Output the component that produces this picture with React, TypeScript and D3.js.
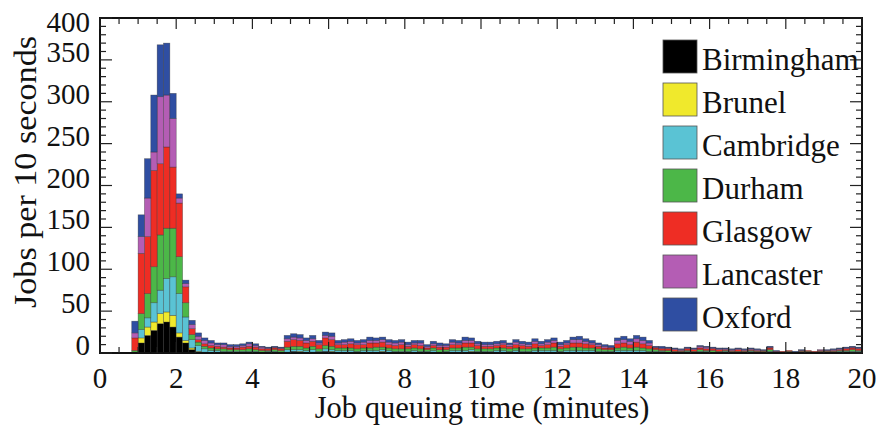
import React from "react";
import * as d3 from "d3";

// Bin width: 10 seconds = 1/6 minute, 120 bins from 0 to 20 minutes
const binMinutes = 1 / 6;
const sites = ["Birmingham", "Brunel", "Cambridge", "Durham", "Glasgow", "Lancaster", "Oxford"];
const colors = ["#000000", "#f0e92c", "#5ac3d4", "#4cb748", "#ee2d24", "#b45db4", "#2f4ea2"];

const birmingham = [
  0, 0, 0, 0, 0, 0, 12, 21, 27, 35,
  37, 31, 19, 12, 4, 1, 0, 0, 1, 1,
  1, 0, 1, 1, 1, 0, 1, 1, 0, 1,
  2, 1, 1, 1, 1, 2, 1, 1, 1, 1,
  1, 1, 1, 1, 1, 1, 1, 0, 1, 1,
  1, 1, 1, 0, 1, 1, 1, 1, 1, 1,
  1, 0, 1, 1, 1, 1, 1, 1, 1, 1,
  1, 1, 1, 1, 1, 1, 1, 1, 1, 1,
  1, 1, 1, 1, 1, 1, 1, 1, 1, 1,
  1, 1, 1, 1, 1, 1, 1, 1, 1, 1,
  1, 1, 1, 1, 1, 1, 1, 1, 1, 1,
  1, 1, 1, 1, 1, 1, 1, 1, 1, 1,
];
const brunel = [
  0, 0, 0, 0, 0, 0, 6, 10, 10, 12,
  12, 14, 5, 3, 2, 1, 1, 0, 0, 0,
  0, 0, 0, 0, 0, 0, 0, 0, 0, 0,
  0, 1, 0, 0, 0, 0, 1, 0, 0, 0,
  0, 0, 0, 0, 1, 0, 0, 0, 0, 0,
  0, 0, 0, 0, 0, 0, 0, 0, 1, 0,
  0, 0, 0, 0, 0, 0, 0, 0, 0, 0,
  0, 0, 0, 0, 0, 0, 0, 0, 0, 0,
  0, 0, 0, 0, 0, 0, 0, 0, 0, 0,
  0, 0, 0, 0, 0, 0, 0, 0, 0, 0,
  0, 0, 0, 0, 0, 0, 0, 0, 0, 0,
  0, 0, 0, 0, 0, 0, 0, 0, 0, 0,
];
const cambridge = [
  0, 0, 0, 0, 0, 1, 10, 11, 23, 28,
  40, 46, 47, 28, 10, 7, 4, 3, 2, 1,
  1, 2, 1, 1, 1, 1, 1, 1, 1, 3,
  2, 2, 2, 3, 1, 3, 2, 2, 2, 2,
  1, 2, 2, 2, 2, 2, 1, 2, 1, 2,
  1, 1, 2, 1, 1, 2, 2, 2, 2, 1,
  1, 2, 2, 2, 1, 2, 1, 1, 2, 2,
  2, 2, 1, 2, 2, 2, 2, 2, 1, 1,
  1, 2, 2, 2, 2, 2, 1, 1, 1, 0,
  0, 0, 1, 0, 1, 1, 0, 0, 1, 0,
  0, 0, 1, 0, 0, 1, 0, 0, 0, 0,
  0, 0, 0, 0, 0, 0, 1, 1, 1, 1,
];
const durham = [
  0, 0, 0, 0, 0, 2, 19, 29, 43, 66,
  60, 58, 44, 17, 6, 4, 3, 3, 2, 3,
  2, 2, 2, 3, 2, 2, 1, 2, 2, 3,
  4, 4, 3, 4, 3, 4, 4, 3, 3, 3,
  3, 3, 3, 4, 3, 3, 3, 3, 3, 3,
  3, 2, 3, 3, 2, 3, 3, 4, 3, 3,
  3, 3, 3, 3, 3, 3, 3, 3, 3, 3,
  3, 4, 3, 3, 4, 4, 3, 3, 3, 2,
  2, 3, 4, 3, 4, 3, 3, 2, 1, 2,
  1, 1, 1, 1, 2, 1, 2, 1, 1, 1,
  1, 1, 1, 1, 1, 2, 0, 0, 1, 0,
  1, 1, 0, 1, 1, 1, 1, 1, 2, 1,
];
const glasgow = [
  0, 0, 0, 0, 0, 15, 72, 68, 115, 85,
  97, 73, 64, 19, 7, 3, 3, 3, 3, 2,
  2, 2, 3, 3, 3, 2, 2, 2, 2, 7,
  8, 7, 6, 6, 5, 9, 8, 4, 4, 5,
  5, 4, 6, 5, 6, 4, 4, 5, 3, 4,
  4, 2, 3, 3, 3, 4, 4, 5, 5, 4,
  3, 3, 3, 4, 3, 4, 4, 3, 5, 3,
  4, 5, 3, 4, 5, 5, 5, 4, 3, 2,
  2, 5, 5, 4, 6, 5, 4, 2, 2, 2,
  2, 1, 2, 2, 2, 2, 2, 2, 1, 1,
  2, 1, 1, 1, 1, 2, 1, 1, 1, 0,
  1, 1, 1, 1, 1, 1, 1, 2, 2, 2,
];
const lancaster = [
  0, 0, 0, 0, 0, 6, 20, 46, 22, 80,
  62, 58, 6, 4, 5, 4, 4, 3, 2, 3,
  2, 2, 2, 3, 2, 2, 1, 1, 1, 3,
  3, 3, 3, 3, 2, 3, 4, 2, 3, 3,
  2, 3, 3, 3, 3, 3, 3, 3, 2, 2,
  3, 2, 2, 2, 2, 3, 2, 3, 3, 2,
  2, 2, 2, 2, 2, 3, 2, 2, 3, 2,
  3, 3, 2, 2, 4, 4, 3, 2, 2, 2,
  1, 4, 4, 4, 4, 4, 3, 1, 1, 1,
  1, 1, 1, 1, 2, 2, 1, 1, 1, 1,
  1, 1, 1, 1, 0, 1, 0, 0, 0, 0,
  0, 0, 0, 1, 0, 1, 1, 1, 1, 1,
];
const oxford = [
  0, 0, 0, 0, 0, 14, 26, 47, 68, 62,
  62, 30, 5, 4, 5, 4, 3, 3, 2, 2,
  2, 2, 2, 2, 2, 1, 1, 1, 1, 4,
  4, 4, 3, 4, 3, 4, 4, 3, 3, 3,
  3, 3, 4, 3, 3, 3, 3, 3, 3, 3,
  3, 2, 3, 3, 2, 3, 3, 4, 3, 3,
  3, 3, 3, 3, 2, 3, 3, 3, 3, 3,
  3, 3, 3, 3, 3, 4, 3, 3, 2, 2,
  2, 3, 4, 3, 4, 4, 3, 1, 2, 1,
  1, 1, 1, 1, 1, 1, 1, 1, 1, 1,
  1, 1, 1, 1, 1, 1, 1, 0, 0, 1,
  1, 0, 0, 0, 1, 1, 1, 1, 1, 1,
];

const seriesValues = [birmingham, brunel, cambridge, durham, glasgow, lancaster, oxford];

const xTickValues = [0, 2, 4, 6, 8, 10, 12, 14, 16, 18, 20];
const yTickValues = [0, 50, 100, 150, 200, 250, 300, 350, 400];
const xLabel = "Job queuing time (minutes)";
const yLabel = "Jobs per 10 seconds";

const W = 876;
const H = 427;
const M = { left: 100, right: 862, top: 18, bottom: 353 };
const FONT = "'Liberation Serif', 'Times New Roman', serif";

export default function App() {
  const x = d3.scaleLinear().domain([0, 20]).range([M.left, M.right]);
  const y = d3.scaleLinear().domain([0, 400]).range([M.bottom, M.top]);

  const rows = birmingham.map((_, i) => {
    const r: Record<string, number> = { bin: i };
    sites.forEach((s, k) => (r[s] = seriesValues[k][i]));
    return r;
  });
  const stacked = d3.stack<Record<string, number>>().keys(sites)(rows);

  const xMinor = d3.range(0, 20.001, 0.5);
  const yMinor = d3.range(0, 400.001, 10);

  return (
    <svg
      width={W}
      height={H}
      style={{ position: "absolute", left: 0, top: 0, background: "#fff" }}
      fontFamily={FONT}
    >
      <rect x={0} y={0} width={W} height={H} fill="#fff" />
      {stacked.map((layer, k) => (
        <g key={sites[k]}>
          {layer.map((d, i) =>
            d[1] > d[0] ? (
              <rect
                key={i}
                x={x(i * binMinutes)}
                width={x((i + 1) * binMinutes) - x(i * binMinutes)}
                y={y(d[1])}
                height={y(d[0]) - y(d[1])}
                fill={colors[k]}
                stroke="#2a2a2a"
                strokeOpacity={0.55}
                strokeWidth={0.6}
              />
            ) : null
          )}
        </g>
      ))}

      {/* frame */}
      <rect
        x={M.left}
        y={M.top}
        width={M.right - M.left}
        height={M.bottom - M.top}
        fill="none"
        stroke="#111"
        strokeWidth={2}
      />

      {/* x ticks (bottom and top, inward) */}
      {xMinor.map((v) => {
        const major = Math.abs(v / 2 - Math.round(v / 2)) < 1e-6;
        const len = major ? 11 : 6;
        return (
          <g key={"xt" + v} stroke="#222" strokeWidth={1.2}>
            <line x1={x(v)} x2={x(v)} y1={M.bottom} y2={M.bottom - len} />
            <line x1={x(v)} x2={x(v)} y1={M.top} y2={M.top + len} />
          </g>
        );
      })}
      {/* y ticks (left and right, inward) */}
      {yMinor.map((v) => {
        const major = v % 50 === 0;
        const len = major ? 12 : 6;
        return (
          <g key={"yt" + v} stroke="#222" strokeWidth={1.2}>
            <line x1={M.left} x2={M.left + len} y1={y(v)} y2={y(v)} />
            <line x1={M.right} x2={M.right - len} y1={y(v)} y2={y(v)} />
          </g>
        );
      })}

      {/* x tick labels */}
      {xTickValues.map((v) => (
        <text
          key={"xl" + v}
          x={x(v)}
          y={388}
          textAnchor="middle"
          fontSize={29}
          fill="#111"
        >
          {v}
        </text>
      ))}
      {/* y tick labels */}
      {yTickValues.map((v) => (
        <text
          key={"yl" + v}
          x={90}
          y={Math.max(y(v) - 8, 22) + 10}
          textAnchor="end"
          fontSize={29}
          fill="#111"
        >
          {v}
        </text>
      ))}

      {/* axis titles */}
      <text x={482} y={418} textAnchor="middle" fontSize={30.5} fill="#111">
        {xLabel}
      </text>
      <text
        transform={`translate(36,172) rotate(-90)`}
        textAnchor="middle"
        fontSize={32}
        textLength={272}
        lengthAdjust="spacingAndGlyphs"
        fill="#111"
      >
        {yLabel}
      </text>

      {/* legend */}
      {sites.map((s, k) => (
        <g key={"lg" + s} transform={`translate(663, ${40 + k * 43})`}>
          <rect width={34} height={33} fill={colors[k]} stroke="#555" strokeWidth={0.8} />
          <text x={39} y={30} fontSize={31} fill="#111">
            {s}
          </text>
        </g>
      ))}
    </svg>
  );
}
